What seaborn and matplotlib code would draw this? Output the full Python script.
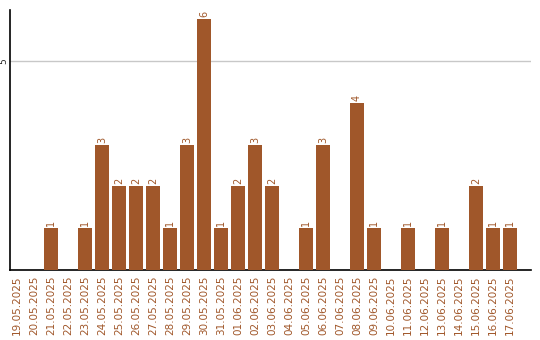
import matplotlib
matplotlib.use("Agg")
import matplotlib.pyplot as plt
import seaborn as sns
import pandas as pd

dates = ["19.05.2025", "20.05.2025", "21.05.2025", "22.05.2025", "23.05.2025",
         "24.05.2025", "25.05.2025", "26.05.2025", "27.05.2025", "28.05.2025",
         "29.05.2025", "30.05.2025", "31.05.2025", "01.06.2025", "02.06.2025",
         "03.06.2025", "04.06.2025", "05.06.2025", "06.06.2025", "07.06.2025",
         "08.06.2025", "09.06.2025", "10.06.2025", "11.06.2025", "12.06.2025",
         "13.06.2025", "14.06.2025", "15.06.2025", "16.06.2025", "17.06.2025"]
counts = [0, 0, 1, 0, 1, 3, 2, 2, 2, 1, 3, 6, 1, 2, 3, 2, 0, 1, 3, 0,
          4, 1, 0, 1, 0, 1, 0, 2, 1, 1]

df = pd.DataFrame({"date": dates, "count": counts})
color = "#A0572A"

sns.set_style("white")
plt.rcParams['font.family'] = ['DejaVu Sans']
fig = plt.figure(figsize=(5.4, 3.4), dpi=100)
ax = fig.add_axes([10/540, 70/340, 521/540, 260/340])

sns.barplot(data=df, x="date", y="count", color=color, width=0.82,
            saturation=1, ax=ax, zorder=3, linewidth=0, edgecolor="none")

for i, v in enumerate(counts):
    if v > 0:
        ax.text(i, v + 0.05, str(v), rotation=90, ha="center", va="bottom",
                fontsize=7, color=color)

ax.set_xlim(-0.41, 30.24)
ax.set_ylim(0, 6.22)
ax.set_yticks([5])
ax.set_yticklabels(["5"], rotation=90, va="center", fontsize=6.5)
ax.yaxis.grid(True, color="#c8c8c8", linewidth=1, zorder=0)
ax.tick_params(axis="y", length=0, pad=1)
ax.tick_params(axis="x", length=0, pad=4, labelsize=7.5, labelcolor=color)
plt.setp(ax.get_xticklabels(), rotation=90)
ax.set_xlabel("")
ax.set_ylabel("")
for s in ["top", "right"]:
    ax.spines[s].set_visible(False)
for s in ["left", "bottom"]:
    ax.spines[s].set_color("black")
    ax.spines[s].set_linewidth(1.2)

fig.savefig("out.png", dpi=100)
